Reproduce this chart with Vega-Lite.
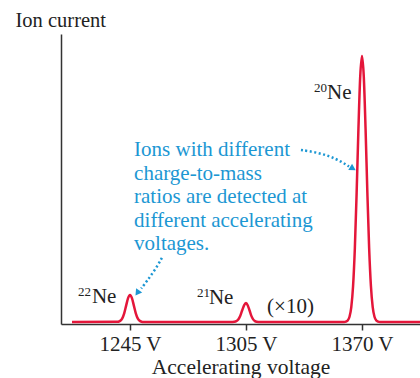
{
  "$schema": "https://vega.github.io/schema/vega-lite/v6.json",
  "autosize": "none",
  "width": 359,
  "height": 290,
  "padding": {"left": 61, "top": 34, "right": 0, "bottom": 54},
  "background": "white",
  "config": {"view": {"stroke": null}, "font": "Liberation Serif"},
  "encoding": {
    "x": {"field": "v", "type": "quantitative",
      "scale": {"domain": [1209.3, 1245, 1305, 1370, 1402.5], "range": [0, 69, 185, 301, 359], "nice": false, "zero": false},
      "axis": {"values": [1245, 1305, 1370], "labelExpr": "datum.value + ' V'", "grid": false,
        "domainColor": "#333", "domainWidth": 1.5, "tickColor": "#333", "tickWidth": 1.5, "tickSize": 6,
        "labelFont": "Liberation Serif", "labelFontSize": 21, "labelColor": "#222", "labelPadding": 3.5,
        "title": "Accelerating voltage", "titleFont": "Liberation Serif", "titleFontSize": 21.5, "titleFontWeight": "normal", "titleColor": "#222", "titlePadding": 2}},
    "y": {"field": "i", "type": "quantitative",
      "scale": {"domain": [0, 100], "nice": false, "zero": false},
      "axis": {"ticks": false, "labels": false, "grid": false, "domainColor": "#333", "domainWidth": 1.5,
        "title": "Ion current", "titleAngle": 0, "titleAlign": "left", "titleBaseline": "alphabetic", "titleX": -46, "titleY": -8,
        "titleFont": "Liberation Serif", "titleFontSize": 20.5, "titleFontWeight": "normal", "titleColor": "#222"}}
  },
  "layer": [
    {
      "data": {"values": [
        {"v": 1215, "i": 0.7}, {"v": 1238, "i": 0.75}, {"v": 1239, "i": 0.8}, {"v": 1240, "i": 1.1}, {"v": 1241, "i": 1.96},
        {"v": 1242, "i": 3.7}, {"v": 1243, "i": 6.35}, {"v": 1244, "i": 8.9}, {"v": 1245, "i": 10.0}, {"v": 1246, "i": 8.9},
        {"v": 1247, "i": 6.35}, {"v": 1248, "i": 3.7}, {"v": 1249, "i": 1.96}, {"v": 1250, "i": 1.1}, {"v": 1251, "i": 0.8},
        {"v": 1252, "i": 0.72}, {"v": 1270, "i": 0.7}, {"v": 1298, "i": 0.72}, {"v": 1299, "i": 0.77}, {"v": 1300, "i": 0.99},
        {"v": 1301, "i": 1.58}, {"v": 1302, "i": 2.8}, {"v": 1303, "i": 4.65}, {"v": 1304, "i": 6.4}, {"v": 1305, "i": 7.2},
        {"v": 1306, "i": 6.4}, {"v": 1307, "i": 4.65}, {"v": 1308, "i": 2.8}, {"v": 1309, "i": 1.58}, {"v": 1310, "i": 0.99},
        {"v": 1311, "i": 0.77}, {"v": 1312, "i": 0.72}, {"v": 1340, "i": 0.7}, {"v": 1360, "i": 0.72}, {"v": 1361, "i": 0.84},
        {"v": 1362, "i": 1.24}, {"v": 1363, "i": 2.5}, {"v": 1364, "i": 5.8}, {"v": 1365, "i": 13.1}, {"v": 1366, "i": 26.2},
        {"v": 1367, "i": 45.4}, {"v": 1368, "i": 67.3}, {"v": 1369, "i": 85.3}, {"v": 1370, "i": 92.4}, {"v": 1371, "i": 85.3},
        {"v": 1372, "i": 67.3}, {"v": 1373, "i": 45.4}, {"v": 1374, "i": 26.2}, {"v": 1375, "i": 13.1}, {"v": 1376, "i": 5.8},
        {"v": 1377, "i": 2.5}, {"v": 1378, "i": 1.24}, {"v": 1379, "i": 0.84}, {"v": 1380, "i": 0.72}, {"v": 1402.5, "i": 0.7}
      ]},
      "mark": {"type": "line", "color": "#e4163a", "strokeWidth": 2.5, "interpolate": "monotone", "clip": true}
    },
    {
      "data": {"values": [
        {"a": 1, "k": 1, "v": 1335.8, "i": 60.0}, {"a": 1, "k": 2, "v": 1343.6, "i": 59.3}, {"a": 1, "k": 3, "v": 1352.0, "i": 57.9},
        {"a": 1, "k": 4, "v": 1358.7, "i": 55.9}, {"a": 1, "k": 5, "v": 1362.7, "i": 54.3},
        {"a": 2, "k": 1, "v": 1261.5, "i": 22.8}, {"a": 2, "k": 2, "v": 1257.9, "i": 18.6}, {"a": 2, "k": 3, "v": 1253.7, "i": 14.8},
        {"a": 2, "k": 4, "v": 1250.8, "i": 12.2}
      ]},
      "mark": {"type": "line", "color": "#1c97d3", "strokeWidth": 2.5, "strokeDash": [2, 2.5], "interpolate": "basis"},
      "encoding": {"detail": {"field": "a"}, "order": {"field": "k", "type": "quantitative"}}
    },
    {
      "data": {"values": [{"v": 1364.4, "i": 53.8}]},
      "mark": {"type": "point", "shape": "triangle", "filled": true, "color": "#1c97d3", "opacity": 1, "size": 55, "angle": 121}
    },
    {
      "data": {"values": [{"v": 1249.1, "i": 11.0}]},
      "mark": {"type": "point", "shape": "triangle", "filled": true, "color": "#1c97d3", "opacity": 1, "size": 55, "angle": 215}
    },
    {
      "data": {"values": [
        {"v": 1247.1, "i": 57.9, "t": "Ions with different"},
        {"v": 1247.1, "i": 49.7, "t": "charge-to-mass"},
        {"v": 1247.1, "i": 41.7, "t": "ratios are detected at"},
        {"v": 1247.1, "i": 33.4, "t": "different accelerating"},
        {"v": 1247.1, "i": 25.5, "t": "voltages."}
      ]},
      "mark": {"type": "text", "align": "left", "baseline": "alphabetic", "font": "Liberation Serif", "fontSize": 21, "color": "#1c97d3"},
      "encoding": {"text": {"field": "t"}}
    },
    {
      "data": {"values": [
        {"v": 1225.3, "i": 7.2, "t": "Ne"},
        {"v": 1285.8, "i": 6.9, "t": "Ne"},
        {"v": 1316.8, "i": 3.8, "t": "(×10)"},
        {"v": 1350.4, "i": 77.6, "t": "Ne"}
      ]},
      "mark": {"type": "text", "align": "left", "baseline": "alphabetic", "font": "Liberation Serif", "fontSize": 21, "color": "#222"},
      "encoding": {"text": {"field": "t"}}
    },
    {
      "data": {"values": [
        {"v": 1218.1, "i": 9.7, "t": "22"},
        {"v": 1279.6, "i": 9.3, "t": "21"},
        {"v": 1343.1, "i": 80.0, "t": "20"}
      ]},
      "mark": {"type": "text", "align": "left", "baseline": "alphabetic", "font": "Liberation Serif", "fontSize": 13, "color": "#222"},
      "encoding": {"text": {"field": "t"}}
    }
  ]
}
